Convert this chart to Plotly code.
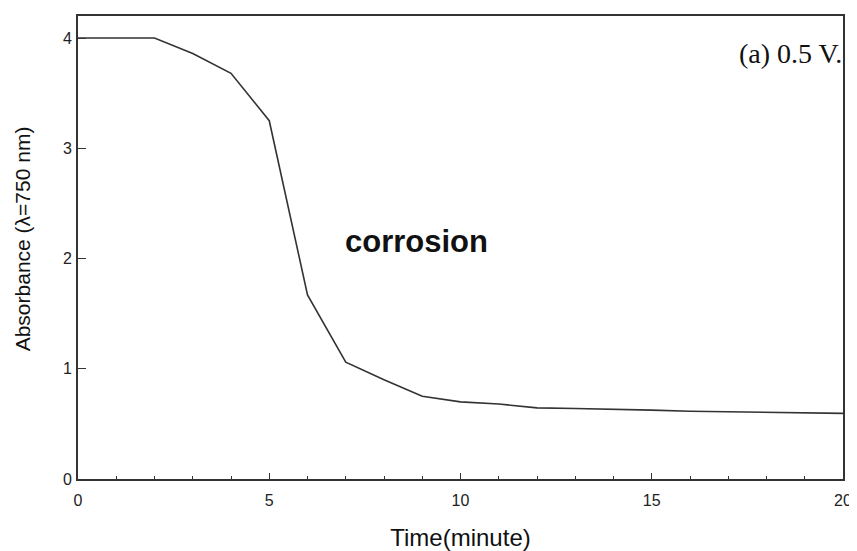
import plotly.graph_objects as go

time_min = [0, 1, 2, 3, 4, 5, 6, 7, 8, 9, 10, 11, 12, 13, 14, 15, 16, 17, 18, 19, 20]
absorbance = [4.0, 4.0, 4.0, 3.86, 3.68, 3.25, 1.67, 1.06, 0.90, 0.75, 0.70, 0.68,
              0.645, 0.64, 0.635, 0.625, 0.615, 0.61, 0.605, 0.60, 0.595]
x_ticks = [0, 5, 10, 15, 20]
y_ticks = [0, 1, 2, 3, 4]

fig = go.Figure()
fig.add_trace(go.Scatter(x=time_min, y=absorbance, mode="lines",
                         line=dict(color="#333333", width=1.6), showlegend=False))

sans = "Liberation Sans, Arial"
axis_common = dict(showgrid=False, zeroline=False, showline=True, linecolor="#333333",
                   linewidth=1.6, mirror=True, ticks="inside", tickcolor="#333333",
                   tickwidth=1.3, automargin=False,
                   tickfont=dict(family=sans, size=16, color="#222222"))

fig.update_xaxes(range=[0, 20], tickvals=x_ticks, ticktext=[str(v) for v in x_ticks],
                 ticklen=6,
                 minor=dict(ticks="inside", dtick=1, ticklen=3, tickcolor="#333333", tickwidth=1.3),
                 title=dict(text="Time(minute)", font=dict(family=sans, size=24, color="#111111"),
                            standoff=22),
                 ticklabelstandoff=6,
                 **axis_common)
fig.update_yaxes(range=[0, 4.2], tickvals=y_ticks, ticktext=[str(v) for v in y_ticks],
                 ticklen=8,
                 ticklabelstandoff=1,
                 **axis_common)

# y-axis title (placed as rotated text so it sits slightly above the plot's middle, as in the reference)
fig.add_annotation(x=-0.073, y=0.518, xref="paper", yref="paper", text="Absorbance (λ=750 nm)",
                   showarrow=False, textangle=-90, xanchor="center", yanchor="middle",
                   font=dict(family=sans, size=21, color="#111111"))
fig.add_annotation(x=8.85, y=2.15, xref="x", yref="y", text="<b>corrosion</b>", showarrow=False,
                   xanchor="center", yanchor="middle",
                   font=dict(family=sans, size=31, color="#111111"))
fig.add_annotation(x=20, y=3.86, xref="x", yref="y", text="(a) 0.5 V.", showarrow=False,
                   xanchor="right", yanchor="middle", xshift=1,
                   font=dict(family="Liberation Serif, Times New Roman", size=28, color="#111111"))

# page body has an 8px margin: shrink the figure so the plot box lands where the reference has it
fig.update_layout(width=849, height=543, margin=dict(l=70, r=14, t=8, b=72),
                  paper_bgcolor="white", plot_bgcolor="white")

fig.write_html("out.html")
